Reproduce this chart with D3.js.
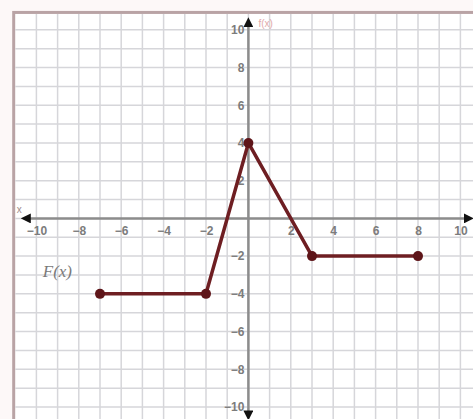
<!DOCTYPE html>
<html>
<head>
<meta charset="utf-8">
<script src="https://cdn.jsdelivr.net/npm/d3@7"></script>
<style>
  body { margin: 0; background: #fff; }
  .tick text { font-family: Arial, "Liberation Sans", sans-serif; font-size: 12px; fill: #7c7c7c; font-weight: bold; }
</style>
</head>
<body>
<div id="chart"></div>
<script>
var pointsX = [-7, -2, 0, 3, 8];
var pointsY = [-4, -4, 4, -2, -2];
var xTicks = [-10, -8, -6, -4, -2, 2, 4, 6, 8, 10];
var yTicks = [-10, -8, -6, -4, -2, 2, 4, 6, 8, 10];
var gridValues = d3.range(-11, 12);

var fullWidth = 473;
var fullHeight = 419;

// 1 unit = 21.2px horizontally, 18.86px vertically
var x = d3.scaleLinear().domain([-10, 10]).range([36.4, 460.4]);
var y = d3.scaleLinear().domain([-10, 10]).range([407, 29.8]);

var svg = d3.select("#chart")
  .append("svg")
    .attr("width", fullWidth)
    .attr("height", fullHeight);

svg.append("rect")
  .attr("width", fullWidth)
  .attr("height", fullHeight)
  .attr("fill", "#fdf8f8");

var frameLeft = x(-11) - 1.5;
var frameTop = y(11) + 1.5;

svg.append("rect")
  .attr("x", frameLeft)
  .attr("y", frameTop)
  .attr("width", fullWidth)
  .attr("height", fullHeight)
  .attr("fill", "#fff")
  .attr("stroke", "#b9a3a5")
  .attr("stroke-width", 3);

var grid = svg.append("g").attr("class", "grid");

grid.selectAll(".vline")
  .data(gridValues.filter(function(d) { return d > -11; }))
  .enter().append("line")
    .attr("x1", function(d) { return x(d); })
    .attr("x2", function(d) { return x(d); })
    .attr("y1", frameTop + 1.5)
    .attr("y2", fullHeight)
    .attr("stroke", "#d6d6da")
    .attr("stroke-width", 1.5);

grid.selectAll(".hline")
  .data(gridValues.filter(function(d) { return d < 11; }))
  .enter().append("line")
    .attr("y1", function(d) { return y(d); })
    .attr("y2", function(d) { return y(d); })
    .attr("x1", frameLeft + 1.5)
    .attr("x2", fullWidth)
    .attr("stroke", "#d6d6da")
    .attr("stroke-width", 1.5);

var defs = svg.append("defs");
defs.append("marker")
    .attr("id", "arrow")
    .attr("viewBox", "0 0 10 10")
    .attr("refX", 5)
    .attr("refY", 5)
    .attr("markerWidth", 4)
    .attr("markerHeight", 4)
    .attr("orient", "auto-start-reverse")
  .append("path")
    .attr("d", "M0,0L10,5L0,10z")
    .attr("fill", "#111");

// axes
svg.append("line")
  .attr("x1", x(-10.5)).attr("x2", x(10.4))
  .attr("y1", y(0)).attr("y2", y(0))
  .attr("stroke", "#8c8c8c")
  .attr("stroke-width", 2.5)
  .attr("marker-start", "url(#arrow)")
  .attr("marker-end", "url(#arrow)");

svg.append("line")
  .attr("x1", x(0)).attr("x2", x(0))
  .attr("y1", y(-10.45)).attr("y2", y(10.4))
  .attr("stroke", "#8c8c8c")
  .attr("stroke-width", 2.5)
  .attr("marker-start", "url(#arrow)")
  .attr("marker-end", "url(#arrow)");

var fmt = function(d) { return d < 0 ? "\u2212" + (-d) : d; };

var xAxis = svg.append("g")
  .attr("transform", "translate(0," + y(0) + ")")
  .call(d3.axisBottom(x).tickValues(xTicks).tickSize(0).tickPadding(8).tickFormat(fmt));
xAxis.select(".domain").remove();

var yAxis = svg.append("g")
  .attr("transform", "translate(" + x(0) + ",0)")
  .call(d3.axisLeft(y).tickValues(yTicks).tickSize(0).tickPadding(4).tickFormat(fmt));
yAxis.select(".domain").remove();

svg.append("text")
  .attr("x", x(0) + 10)
  .attr("y", y(10.4) + 5)
  .attr("font-family", "Arial, sans-serif")
  .attr("font-size", 10)
  .attr("fill", "#e2aaaa")
  .text("f(x)");

svg.append("text")
  .attr("x", x(-10.5) - 9)
  .attr("y", y(0) - 5)
  .attr("font-family", "Arial, sans-serif")
  .attr("font-size", 10)
  .attr("fill", "#a08c8c")
  .text("x");

// function graph
var line = d3.line()
  .x(function(d, i) { return x(pointsX[i]); })
  .y(function(d, i) { return y(pointsY[i]); });

svg.append("path")
  .datum(pointsX)
  .attr("d", line)
  .attr("fill", "none")
  .attr("stroke", "#6e1e22")
  .attr("stroke-width", 3.5)
  .attr("stroke-linejoin", "round");

svg.selectAll(".pt")
  .data(pointsX)
  .enter().append("circle")
    .attr("class", "pt")
    .attr("cx", function(d) { return x(d); })
    .attr("cy", function(d, i) { return y(pointsY[i]); })
    .attr("r", 5)
    .attr("fill", "#5e1519");

svg.append("text")
  .attr("x", x(-9.7))
  .attr("y", y(-3.1))
  .attr("font-family", "'Liberation Serif', 'DejaVu Serif', serif")
  .attr("font-style", "italic")
  .attr("font-size", 17)
  .attr("fill", "#7a7a7a")
  .text("F(x)");
</script>
</body>
</html>
